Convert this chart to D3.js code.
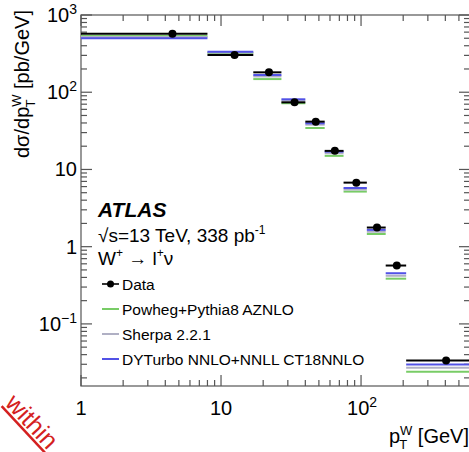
<!DOCTYPE html>
<html>
<head>
<meta charset="utf-8">
<script src="https://cdn.jsdelivr.net/npm/d3@7"></script>
<style>
  body { margin: 0; background: #fff; }
  svg { display: block; font-family: "Liberation Sans", Arial, Helvetica, sans-serif; }
</style>
</head>
<body>
<div class="chart"></div>
<script>
// bins in pT^W [GeV]
var binLo = [1, 8, 17, 27, 40, 55, 75, 110, 150, 210];
var binHi = [8, 17, 27, 40, 55, 75, 110, 150, 210, 600];
var binCenter = [4.5, 12.5, 22, 33.5, 47.5, 65, 92.5, 130, 180, 405];
// dsigma/dpT [pb/GeV]
var dataVals = [573, 303, 181, 74, 41.6, 17.4, 6.75, 1.77, 0.57, 0.0335];
var powheg = [535, 322, 148, 72, 34.4, 15.0, 5.17, 1.46, 0.385, 0.0241];
var sherpa = [520, 328, 160, 78, 38, 16.2, 5.5, 1.56, 0.42, 0.027];
var dyturbo = [499, 335, 167, 81, 39.6, 17.0, 5.75, 1.65, 0.453, 0.0297];

var yMajor = [[1000, "10", "3"], [100, "10", "2"], [10, "10", ""], [1, "1", ""], [0.1, "10", "\u22121"]];
var xMajor = [[1, "1", ""], [10, "10", ""], [100, "10", "2"]];

var legendNames = ["Data", "Powheg+Pythia8 AZNLO", "Sherpa 2.2.1", "DYTurbo NNLO+NNLL CT18NNLO"];
var colors = { data: "#000", powheg: "#78cc66", sherpa: "#b0b0c4", dyturbo: "#5252e6" };

var W = 469, H = 452;
var pL = 81, pR = 470, pT = 15, pB = 386;

var svg = d3.select(".chart").append("svg").attr("width", W).attr("height", H);

var x = d3.scaleLog().domain([1, 600]).range([pL, pR]);
var y = d3.scaleLog().domain([0.0157, 1000]).range([pB, pT]);

// minor ticks
var xMinor = [], yMinor = [];
[1, 10, 100].forEach(function(d) { for (var k = 2; k <= 9; k++) if (d * k <= 600) xMinor.push(d * k); });
[0.01, 0.1, 1, 10, 100].forEach(function(d) { for (var k = 2; k <= 9; k++) if (d * k >= 0.0157) yMinor.push(d * k); });

var axisCol = "#555";
var ax = svg.append("g").attr("stroke", axisCol).attr("stroke-width", 1.2);
ax.append("rect").attr("x", pL).attr("y", pT).attr("width", pR - pL).attr("height", pB - pT).attr("fill", "none");

function vtick(v, len) {
  ax.append("line").attr("x1", x(v)).attr("x2", x(v)).attr("y1", pB).attr("y2", pB - len);
  ax.append("line").attr("x1", x(v)).attr("x2", x(v)).attr("y1", pT).attr("y2", pT + len);
}
function htick(v, len) {
  ax.append("line").attr("x1", pL).attr("x2", pL + len).attr("y1", y(v)).attr("y2", y(v));
  ax.append("line").attr("x1", pR).attr("x2", pR - len).attr("y1", y(v)).attr("y2", y(v));
}
xMajor.forEach(function(d) { vtick(d[0], 11); });
xMinor.forEach(function(d) { vtick(d, 6); });
yMajor.forEach(function(d) { htick(d[0], 11); });
yMinor.forEach(function(d) { htick(d, 6); });

// tick labels
function label(g, base, sup, xx, yy, anchor) {
  var t = g.append("text").attr("x", xx).attr("y", yy).attr("text-anchor", anchor).attr("font-size", 20);
  t.append("tspan").text(base);
  if (sup) t.append("tspan").attr("dy", -8).attr("font-size", 14).text(sup);
  return t;
}
var tl = svg.append("g").attr("fill", "#000");
yMajor.forEach(function(d) { label(tl, d[1], d[2], 77, y(d[0]) + 7, "end"); });
xMajor.forEach(function(d) {
  var t = label(tl, d[1], d[2], x(d[0]), 415, "middle");
  if (d[2]) t.attr("text-anchor", "start").attr("x", x(d[0]) - 14);
});

// axis titles
var xt = svg.append("text").attr("x", 469).attr("y", 443).attr("text-anchor", "end").attr("font-size", 20);
xt.append("tspan").text("p");
xt.append("tspan").attr("font-size", 13).attr("dy", -8).text("W");
xt.append("tspan").attr("font-size", 13).attr("dx", -13).attr("dy", 14).text("T");
xt.append("tspan").attr("dx", 5).attr("dy", -6).text("\u00a0[GeV]");

var yt = svg.append("text").attr("transform", "translate(29,10) rotate(-90)").attr("text-anchor", "end").attr("font-size", 20);
yt.append("tspan").text("d\u03c3/dp");
yt.append("tspan").attr("font-size", 13).attr("dy", -8).text("W");
yt.append("tspan").attr("font-size", 13).attr("dx", -13).attr("dy", 14).text("T");
yt.append("tspan").attr("dx", 5).attr("dy", -6).text("\u00a0[pb/GeV]");

// predictions
var plot = svg.append("g");
function model(vals, col) {
  plot.selectAll(null).data(vals).enter().append("line")
    .attr("x1", function(d, i) { return x(binLo[i]); })
    .attr("x2", function(d, i) { return x(binHi[i]); })
    .attr("y1", function(d) { return y(d); })
    .attr("y2", function(d) { return y(d); })
    .attr("stroke", col).attr("stroke-width", 2);
}
model(powheg, colors.powheg);
model(sherpa, colors.sherpa);
model(dyturbo, colors.dyturbo);

// data
plot.selectAll(null).data(dataVals).enter().append("line")
  .attr("x1", function(d, i) { return x(binLo[i]); })
  .attr("x2", function(d, i) { return x(binHi[i]); })
  .attr("y1", function(d) { return y(d); })
  .attr("y2", function(d) { return y(d); })
  .attr("stroke", "#000").attr("stroke-width", 2);
plot.selectAll(null).data(dataVals).enter().append("circle")
  .attr("cx", function(d, i) { return x(binCenter[i]); })
  .attr("cy", function(d) { return y(d); })
  .attr("r", 4).attr("fill", "#000");

// labels
svg.append("text").attr("x", 98).attr("y", 217).attr("font-size", 21).attr("font-weight", "bold").attr("font-style", "italic").text("ATLAS");
var s1 = svg.append("text").attr("x", 98).attr("y", 242).attr("font-size", 19);
s1.append("tspan").text("\u221as=13 TeV, 338 pb");
s1.append("tspan").attr("dy", -8).attr("font-size", 12).text("-1");
var s2 = svg.append("text").attr("x", 98).attr("y", 265).attr("font-size", 19);
s2.append("tspan").text("W");
s2.append("tspan").attr("dy", -8).attr("font-size", 12).text("+");
s2.append("tspan").attr("dy", 8).text("\u00a0\u2192 l");
s2.append("tspan").attr("dy", -8).attr("font-size", 12).text("+");
s2.append("tspan").attr("dy", 8).text("\u03bd");

var legCols = [colors.data, colors.powheg, colors.sherpa, colors.dyturbo];
var leg = svg.append("g");
legendNames.forEach(function(name, i) {
  var ly = 290 + i * 25;
  leg.append("line").attr("x1", 102).attr("x2", 119).attr("y1", ly - 6).attr("y2", ly - 6)
    .attr("stroke", legCols[i]).attr("stroke-width", i === 0 ? 1.6 : 2);
  if (i === 0) leg.append("circle").attr("cx", 110.5).attr("cy", ly - 6).attr("r", 3.5).attr("fill", "#000");
  leg.append("text").attr("x", 122).attr("y", ly).attr("font-size", 15.5).text(name);
});

// red stamp fragment in the corner
svg.append("text").attr("transform", "translate(4,404) rotate(47)")
  .attr("font-size", 25).attr("fill", "#d42020").attr("text-decoration", "underline").text("within");
</script>
</body>
</html>
